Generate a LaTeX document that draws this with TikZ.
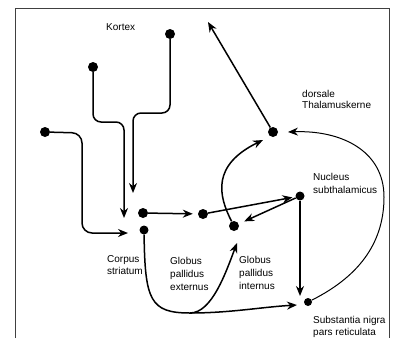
\documentclass[tikz,border=0pt]{standalone}
\usepackage{fontspec}
\setmainfont{Liberation Sans}
\usetikzlibrary{arrows.meta}
\begin{document}
\begin{tikzpicture}[x=1pt,y=-1pt,
  dot/.style={circle,fill=black,inner sep=0pt,minimum size=10pt},
  lbl/.style={anchor=north west,inner sep=0pt,align=left,font=\fontsize{10}{13}\selectfont},
  conn/.style={line width=1.5pt,-{Stealth[length=10pt,width=8pt]}},
  thinconn/.style={line width=1pt,-{Stealth[length=10pt,width=8pt]}},
  frameline/.style={line width=0.8pt,draw=black!75}]
\useasboundingbox (0,0) rectangle (393,338);
% frame
\draw[frameline] (15,338) -- (15,8) -- (389,8) -- (389,338);
% nuclei
\node[dot] (k1) at (170,34) {};
\node[dot] (k2) at (93,67) {};
\node[dot] (k3) at (45,132) {};
\node[dot] (sa) at (143,213) {};
\node[dot,minimum size=9pt] (sb) at (144,230) {};
\node[dot] (gpe) at (203,214) {};
\node[dot] (gpi) at (234,226) {};
\node[dot,minimum size=9pt] (stn) at (300,196) {};
\node[dot] (th) at (273,132) {};
\node[dot,minimum size=8pt] (snr) at (308,302) {};
% free ends
\coordinate (t1) at (133,193);
\coordinate (t2) at (124,218);
\coordinate (t3) at (128,233);
\coordinate (tk) at (208,22);
\coordinate (tsn) at (300,296);
\coordinate (tgpi) at (237,243);
\coordinate (tsn2) at (297,305);
\coordinate (tth) at (288,132);
\coordinate (tth2) at (263,140);
\coordinate (jb) at (190,313);
% cortex inputs
\draw[conn,rounded corners=8pt] (k1) -- (170,113) -- (133,113) -- (t1);
\draw[conn,rounded corners=8pt] (k2) -- (93,122) -- (124,122) -- (t2);
\draw[conn,rounded corners=10pt] (k3) -- (82,133) -- (82,233) -- (t3);
% internal connections
\draw[conn,shorten >=5pt] (sa) -- (gpe);
\draw[conn,shorten >=3pt] (gpe) -- (stn);
\draw[conn,shorten >=6pt] (stn) -- (gpi);
\draw[conn] (stn) -- (tsn);
\draw[conn] (th) -- (tk);
\draw[conn] (gpi) .. controls (218,195) and (212,165) .. (tth2);
\draw[thinconn] (snr) .. controls (362,275) and (384,240) .. (384,197) .. controls (384,150) and (340,130) .. (tth);
\draw[conn] (sb) .. controls (145,300) and (150,313) .. (jb) .. controls (212,313) and (226,272) .. (tgpi);
\draw[conn] (jb) .. controls (230,313) and (262,307) .. (tsn2);
% labels
\node[lbl] (kortex) at (106,23.5) {Kortex};
\node[lbl,font=\fontsize{10}{10.5}\selectfont] (thal) at (302,90.5) {dorsale\\Thalamuskerne};
\node[lbl] (stnl) at (313,172.7) {Nucleus\\subthalamicus};
\node[lbl,font=\fontsize{10}{12}\selectfont] (cs) at (107,255.7) {Corpus\\striatum};
\node[lbl] (gpel) at (170,256.7) {Globus\\pallidus\\externus};
\node[lbl] (gpil) at (239,255.7) {Globus\\pallidus\\internus};
\node[lbl,font=\fontsize{10}{12}\selectfont] (snrl) at (313,315.7) {Substantia nigra\\pars reticulata};
\end{tikzpicture}
\end{document}
